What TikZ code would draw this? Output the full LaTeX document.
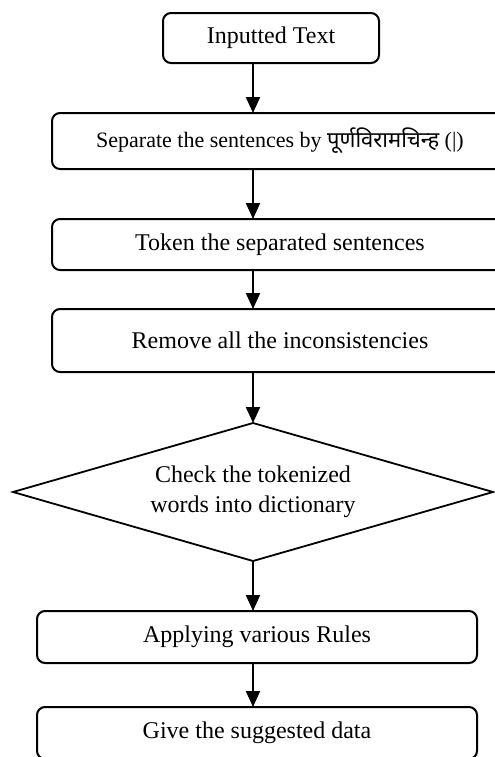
\documentclass[tikz,border=0pt]{standalone}
\usepackage{fontspec}
\setmainfont{Liberation Serif}
\newfontfamily\devfont[Script=Devanagari]{Noto Sans}
\usepackage{tikz}
\usetikzlibrary{shapes.geometric, arrows.meta, positioning}
\tikzset{
  flowbox/.style={rectangle, rounded corners=4pt, draw=black, line width=1pt,
    fill=white, minimum height=25pt, outer sep=0pt, align=center,
    font=\fontsize{12}{15}\selectfont},
  flowdiamond/.style={diamond, draw=black, line width=0.9pt, fill=white,
    aspect=3.5, inner sep=0pt, outer sep=0pt, align=center,
    font=\fontsize{12}{15}\selectfont},
  flowarrow/.style={-{Triangle[length=8pt, width=7pt]}, line width=1pt, black}
}

\begin{document}
\begin{tikzpicture}[node distance=25pt]
        \useasboundingbox (0,0) rectangle (247pt,-378.5pt);
        \coordinate (col) at (126.5pt,0);
        \node[flowbox, minimum width=108pt] (inp) at (135.5pt,-19pt) {Inputted Text};
        \node[flowbox, minimum width=228pt, minimum height=28pt, below=of inp, xshift=4.5pt,
          font=\fontsize{11}{13}\selectfont] (sep)
          {Separate the sentences by {\devfont पूर्णविरामचिन्ह} (|)};
        \node[flowbox, minimum width=228pt, minimum height=25.5pt, below=of sep] (tok)
          {Token the separated sentences};
        \node[flowbox, minimum width=228pt, minimum height=31.5pt, below=19.5pt of tok] (rem)
          {Remove all the inconsistencies};
        \node[flowdiamond, minimum width=240pt, minimum height=69pt, below=25.5pt of rem,
          xshift=-13.5pt] (chk) {Check the tokenized\\words into dictionary};
        \node[flowbox, minimum width=220pt, minimum height=26pt, below=of chk, xshift=2pt] (app)
          {Applying various Rules};
        \node[flowbox, minimum width=220pt, minimum height=26pt, below=22pt of app] (give)
          {Give the suggested data};
        \draw[flowarrow] (inp.south -| col) -- (sep.north -| col);
        \draw[flowarrow] (sep.south -| col) -- (tok.north -| col);
        \draw[flowarrow] (tok.south -| col) -- (rem.north -| col);
        \draw[flowarrow] (rem.south -| col) -- (chk.north);
        \draw[flowarrow] (chk.south) -- (app.north -| col);
        \draw[flowarrow] (app.south -| col) -- (give.north -| col);
      \end{tikzpicture}
\end{document}
